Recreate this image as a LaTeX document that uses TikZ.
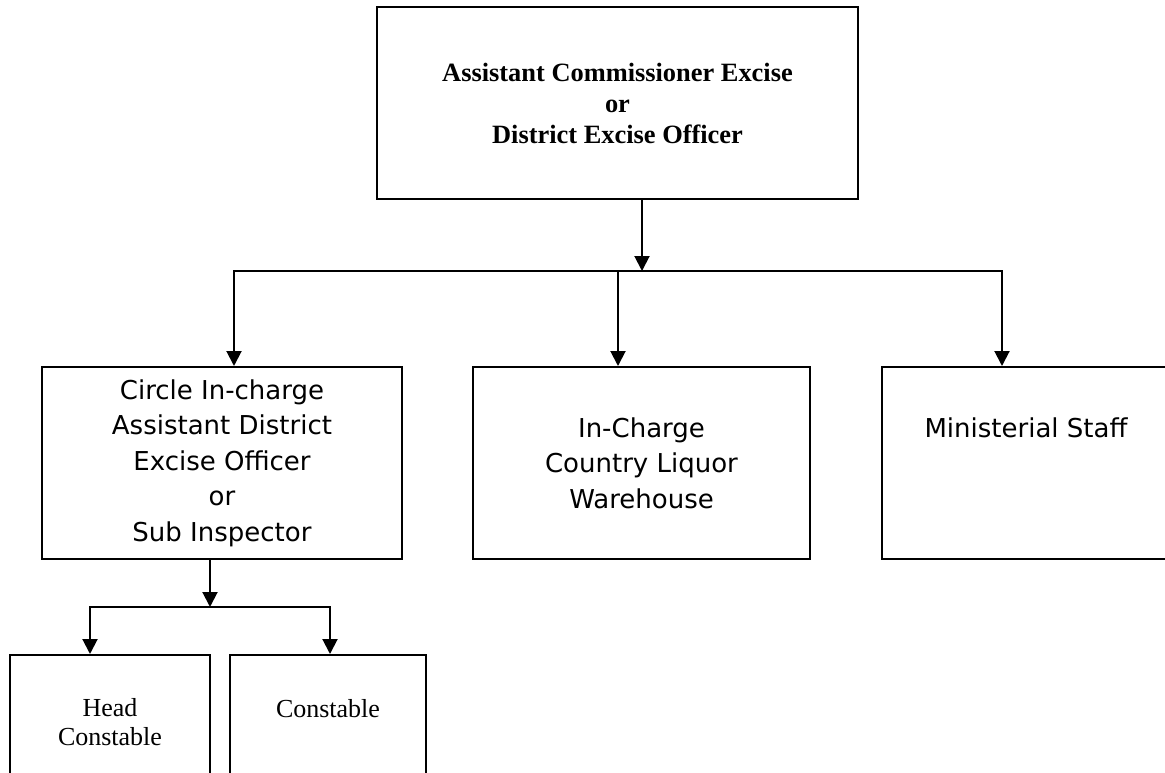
\documentclass[tikz,border=0pt]{standalone}
\usepackage{fontspec}
\setmainfont{Liberation Serif}
\newfontfamily\verdfont{DejaVu Sans}
\usepackage{tikz}
\usetikzlibrary{arrows.meta,positioning}

\begin{document}
\begin{tikzpicture}[x=1pt,y=-1pt,line width=2pt,line join=miter,>={Triangle[length=15pt,width=15pt]},
  box/.style={draw,rectangle,inner sep=0pt,align=center,minimum height=192pt},
  serif/.style={font=\fontsize{26}{29}\selectfont},
  sans/.style={font=\verdfont\fontsize{26}{35.5}\selectfont}]
  \useasboundingbox (0,0) rectangle (1165,773);
  \clip (0,0) rectangle (1165,773);
  % head of the office
  \node[box,font=\fontsize{26.4}{31}\selectfont\bfseries,minimum width=481pt] (top) at (617.5,103)
    {Assistant Commissioner Excise\\or\\District Excise Officer};
  % second level
  \node[box,sans,minimum width=360pt] (circle) at (222,463)
    {Circle In-charge\\Assistant District\\Excise Officer\\or\\Sub Inspector};
  \node[box,sans,minimum width=337pt] (depot) at (641.5,463)
    {In-Charge\\Country Liquor\\Warehouse};
  \node[box,sans,minimum width=288pt] (staff) at (1026,463)
    {Ministerial Staff\\[36pt]\mbox{}};
  % under the circle in-charge
  \node[box,serif,minimum width=200pt,minimum height=135pt] (head) at (110,722.5)
    {Head\\Constable};
  \node[box,serif,minimum width=196pt,minimum height=135pt] (const) at (328,722.5)
    {Constable\\\mbox{}};
  % connectors, first level
  \coordinate (bus1) at (642,271);
  \coordinate (bL) at (234,271);
  \coordinate (bM) at (618,271);
  \coordinate (bR) at (1002,271);
  \draw[->] (top.south -| bus1) -- (bus1);
  \draw[->] (bM) -- (bL) -- (bL |- circle.north);
  \draw[->] (bM) -- (bR) -- (bR |- staff.north);
  \draw[->] (bM) -- (bM |- depot.north);
  % connectors, second level
  \coordinate (bus2) at (210,607);
  \coordinate (cL) at (90,607);
  \coordinate (cR) at (330,607);
  \draw[->] (circle.south -| bus2) -- (bus2);
  \draw[->] (bus2) -- (cL) -- (cL |- head.north);
  \draw[->] (bus2) -- (cR) -- (cR |- const.north);
\end{tikzpicture}
\end{document}
